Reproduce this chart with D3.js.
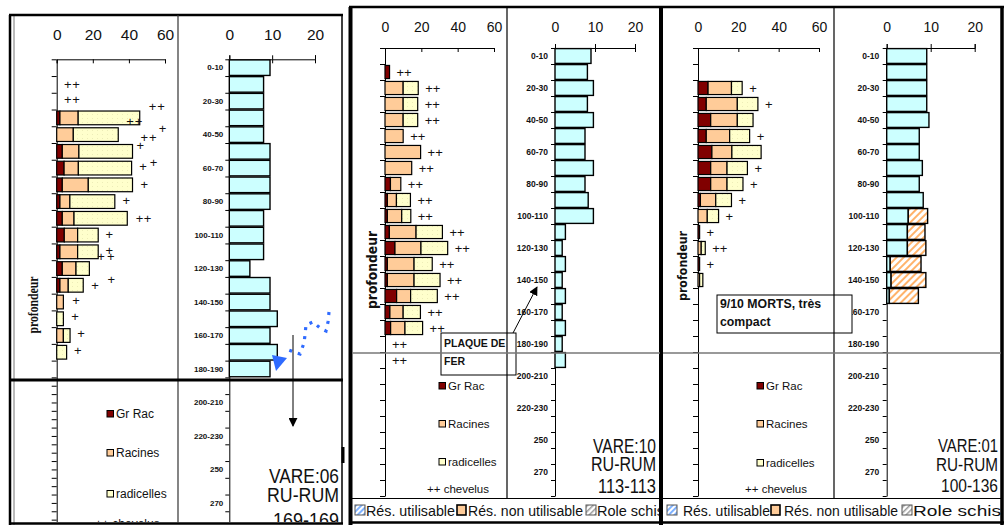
<!DOCTYPE html>
<html>
<head>
<meta charset="utf-8">
<script src="https://cdn.jsdelivr.net/npm/d3@7"></script>
<style>
  body { margin: 0; background: #fff; }
  svg { display: block; }
  text { font-family: "Liberation Sans", Arial, sans-serif; fill: #111; }
</style>
</head>
<body>
<div id="chart"></div>
<script>
// tick labels
const depthLabels = ["0-10", "20-30", "40-50", "60-70", "80-90", "100-110", "120-130", "140-150",
  "160-170", "180-190", "200-210", "220-230", "250", "270"];
const rootTicks = [0, 20, 40, 60];
const waterTicks = [0, 10, 20];
const legendRoots = ["Gr Rac", "Racines", "radicelles"];
const legendWater = ["Rés. utilisable", "Rés. non utilisable", "Role schiste"];

// VARE:06  (one value per 10 cm row)
const p1Title = ["VARE:06", "RU-RUM", "169-169"];
const p1GrRac = [0, 0, 0, 1.8, 0, 3.1, 4.1, 3.1, 1.8, 3.1, 4.2, 1.8, 3.1, 1.8, 0, 0, 0, 0, 0];
const p1Racines = [0, 0, 0, 10.1, 9.2, 9.2, 7.9, 14.4, 5.5, 6.5, 7.4, 9.8, 7.6, 4.6, 3.7, 0, 3.7, 0, 0];
const p1Radicelles = [0, 0, 0, 34.1, 24.9, 29.7, 29.5, 24.5, 24.9, 29.5, 11.4, 11.4, 7.4, 8.3, 0, 3.7, 3.7, 5.5, 0];
const p1ResUtil = [9.5, 8, 8, 8, 8, 9.5, 9.5, 9.5, 9.5, 8, 8, 8, 4.8, 9.5, 9.5, 11.2, 9.5, 11.2, 9.5];
const p1ResNon = [];
// chevelus marks of this profile are scattered: x value and depth (cm) of each "+"
const p1ChevX = [6.1, 10.7, 6.1, 10.7, 53.1, 57.8, 40.7, 45.3, 58.7, 48.5, 53.3, 46.3, 47.8, 53.7,
  48.5, 38.5, 45.9, 50.3, 29.2, 29.2, 24.6, 30.0, 30.2, 21.3, 10.7, 10.2, 13.5, 11.7];
const p1ChevDepth = [14.8, 14.8, 23.9, 23.9, 27.9, 27.9, 37.3, 37.3, 41.2, 46.6, 46.6, 51.6, 64.2, 61.8,
  74.7, 84.1, 95.0, 95.0, 104.5, 113.9, 117.5, 117.5, 131.4, 134.8, 143.8, 153.8, 163.7, 174.1];

// VARE:10
const p2Title = ["VARE:10", "RU-RUM", "113-113"];
const p2GrRac = [0, 2.5, 0, 0, 0, 0, 0, 0, 3, 1.3, 1.3, 2.4, 5.5, 1.3, 1.3, 6.4, 2.7, 3.1, 0, 0];
const p2Racines = [0, 0, 10, 10, 10, 10, 19.6, 14.7, 5.7, 5, 7.9, 14.7, 14.3, 14.7, 14.7, 7.7, 7.3, 7.9, 0, 0];
const p2Radicelles = [0, 0, 8.3, 8, 8, 0, 0, 0, 0, 7.7, 5, 14.5, 14.7, 10, 14.3, 14.7, 9.5, 9.7, 0, 0];
const p2Chevelus = [0, 2, 2, 2, 2, 2, 2, 2, 2, 2, 2, 2, 2, 2, 2, 2, 2, 2, 2, 2];
const p2ResUtil = [9, 8.1, 9.6, 8.1, 9.6, 7.5, 7.5, 9.6, 7.5, 8.3, 9.6, 2.6, 1.8, 2.6, 1.8, 2.6, 1.8, 2.6, 1.8, 2.6];
const p2ResNon = [];

// VARE:01
const p3Title = ["VARE:01", "RU-RUM", "100-136"];
const p3GrRac = [0, 0, 5, 4.1, 6.3, 4.1, 6.9, 6.3, 6.3, 1.2, 0, 0.8, 0, 0.8, 0];
const p3Racines = [0, 0, 11.6, 15.4, 13.2, 11.6, 9.9, 8.1, 8.1, 7.6, 4.6, 0, 1.6, 0, 0.8];
const p3Radicelles = [0, 0, 5.3, 10.2, 7.8, 9.9, 14.5, 10.1, 7.9, 7.8, 5.6, 0, 2, 0, 1.6];
const p3Chevelus = [0, 0, 1, 1, 0, 1, 0, 1, 1, 1, 1, 1, 2, 1, 0];
const p3ResUtil = [9.1, 9.1, 9.1, 9.1, 9.6, 7.4, 7.4, 8.1, 7.4, 8.3, 4.9, 4.7, 4.7, 0.8, 1.0, 0.6];
const p3ResNon = [0, 0, 0, 0, 0, 0, 0, 0, 0, 0, 4.4, 4.0, 4.2, 7.0, 7.9, 6.6];

const svg = d3.select("#chart").append("svg").attr("width", 1004).attr("height", 525);
const defs = svg.append("defs");

function hatch(id, color, bg, size, w) {
  const p = defs.append("pattern").attr("id", id).attr("patternUnits", "userSpaceOnUse")
    .attr("width", size).attr("height", size).attr("patternTransform", "rotate(45)");
  p.append("rect").attr("width", size).attr("height", size).attr("fill", bg);
  p.append("rect").attr("width", w).attr("height", size).attr("fill", color);
}
hatch("hatchOrange", "#FFB36B", "#fff", 5, 2);
hatch("hatchBlue", "#7FB2FF", "#fff", 4, 2);
hatch("hatchGrey", "#999", "#fff", 4, 1.5);

const dots = defs.append("pattern").attr("id", "radDots").attr("patternUnits", "userSpaceOnUse")
  .attr("width", 5).attr("height", 4);
dots.append("rect").attr("width", 5).attr("height", 4).attr("fill", "#FFFFCC");
dots.append("rect").attr("x", 2).attr("y", 2).attr("width", 1).attr("height", 1).attr("fill", "#EDEDB8");

defs.append("marker").attr("id", "arrBlack").attr("viewBox", "0 0 10 10").attr("refX", 9).attr("refY", 5)
  .attr("markerWidth", 9).attr("markerHeight", 9).attr("markerUnits", "userSpaceOnUse")
  .attr("orient", "auto")
  .append("path").attr("d", "M0,0L10,5L0,10z").attr("fill", "#000");

const rootFill = { gr: "#800000", rac: "#FFCC99", rad: "url(#radDots)" };
const waterFill = { use: "#CCFFFF", non: "url(#hatchOrange)" };
const legendFill = ["#800000", "#FFCC99", "#FFFFCC"];
const stackRoots = d3.stack().keys(["gr", "rac", "rad"]);
const stackWater = d3.stack().keys(["use", "non"]);

const panels = [
  {
    id: 1, clip: [11, 16, 331, 506], top: 59.3, rowH: 16.74, rx: [56.7, 165], wx: [229.3, 315],
    axisFont: 15.5, labelPad: 19.3, depthFont: 8, depthGap: 6,
    rootDepthTicks: d3.range(0, 190, 10).concat(d3.range(190, 281, 5)),
    data: { gr: p1GrRac, rac: p1Racines, rad: p1Radicelles, use: p1ResUtil, non: p1ResNon,
      chevX: p1ChevX, chevDepth: p1ChevDepth },
    prof: { x: 33, y: 305, len: 57, size: 15, family: "Liberation Serif" },
    leg: { x: 107, ys: [418, 457, 498], chevX: 95, chevY: 528, size: 12 },
    title: { text: p1Title, x: 339, ys: [483, 502, 527], lens: [70, 72, 66], size: 21 }
  },
  {
    id: 2, clip: [353, 8, 307, 513], top: 48, rowH: 16, rx: [385, 494], wx: [555, 635],
    axisFont: 14, labelPad: 16, depthFont: 8.5, depthGap: 7,
    rootDepthTicks: d3.range(0, 281, 10),
    data: { gr: p2GrRac, rac: p2Racines, rad: p2Radicelles, use: p2ResUtil, non: p2ResNon, chev: p2Chevelus },
    prof: { x: 372, y: 270, len: 78, size: 13.5, family: "DejaVu Sans" },
    leg: { x: 439, ys: [390, 428, 466], chevX: 427, chevY: 493, size: 11.5 },
    title: { text: p2Title, x: 656, ys: [453, 471, 493], lens: [63, 65, 58], size: 19.5 },
    bottom: { xs: [355, 366, 457, 468, 586, 597], lens: [89, 115, 79], y: 516 }
  },
  {
    id: 3, clip: [662, 8, 339, 513], top: 48, rowH: 16, rx: [698, 819], wx: [886.7, 974.7],
    axisFont: 14, labelPad: 16, depthFont: 8.5, depthGap: 7.5,
    rootDepthTicks: d3.range(0, 281, 10),
    data: { gr: p3GrRac, rac: p3Racines, rad: p3Radicelles, use: p3ResUtil, non: p3ResNon, chev: p3Chevelus },
    prof: { x: 682, y: 266, len: 70, size: 13, family: "DejaVu Sans" },
    leg: { x: 757, ys: [390, 428, 467], chevX: 745, chevY: 493, size: 11.5 },
    title: { text: p3Title, x: 998, ys: [452, 471, 492], lens: [60, 62, 57], size: 19 },
    bottom: { xs: [667, 683, 771, 784, 902, 913], lens: [87, 114, 104], y: 516 }
  }
];

panels.forEach(cfg => {
  defs.append("clipPath").attr("id", "clip" + cfg.id).append("rect")
    .attr("x", cfg.clip[0]).attr("y", cfg.clip[1]).attr("width", cfg.clip[2]).attr("height", cfg.clip[3]);
  drawPanel(cfg);
});

function styleAxis(sel, size) {
  sel.attr("font-family", null).attr("font-size", null);
  sel.selectAll("text").attr("font-size", size)
    .style("font-family", '"Liberation Sans Narrow", "Arial Narrow", "Liberation Sans", sans-serif')
    .attr("fill", "#222");
  sel.selectAll("line, path").attr("stroke", "#000");
}

function drawPanel(cfg) {
  const g = svg.append("g").attr("clip-path", `url(#clip${cfg.id})`);
  const d = cfg.data;
  const depth = d3.scaleLinear().domain([0, 280]).range([cfg.top, cfg.top + 28 * cfg.rowH]);
  const xr = d3.scaleLinear().domain([0, 60]).range(cfg.rx);
  const xw = d3.scaleLinear().domain([0, 20]).range(cfg.wx);

  // --- root chart ---
  g.append("g").attr("transform", `translate(${cfg.rx[0]},0)`)
    .call(d3.axisLeft(depth).tickValues(cfg.rootDepthTicks).tickFormat("").tickSize(5).tickSizeOuter(0))
    .call(s => styleAxis(s, cfg.axisFont));

  g.append("g").attr("transform", `translate(0,${cfg.top})`)
    .call(d3.axisTop(xr).tickValues(rootTicks).tickSizeInner(-4).tickSizeOuter(-4).tickPadding(cfg.labelPad))
    .call(s => styleAxis(s, cfg.axisFont));

  const rows = d.gr.map((v, i) => ({ row: i, gr: v, rac: d.rac[i], rad: d.rad[i] }));
  const barH = cfg.rowH * 0.82;
  g.append("g").selectAll("g").data(stackRoots(rows)).join("g")
    .attr("fill", s => rootFill[s.key])
    .selectAll("rect").data(s => s.filter(p => p[1] > p[0])).join("rect")
    .attr("x", p => xr(p[0]))
    .attr("width", p => xr(p[1]) - xr(p[0]))
    .attr("y", p => depth(p.data.row * 10) + (cfg.rowH - barH) / 2)
    .attr("height", barH)
    .attr("stroke", "#000").attr("stroke-width", 1.2);

  // chevelus
  const chev = g.append("g").attr("font-size", 13).attr("fill", "#111");
  if (d.chevX) {
    chev.selectAll("text").data(d.chevX).join("text")
      .attr("x", v => xr(v))
      .attr("y", (v, i) => depth(d.chevDepth[i]))
      .attr("dy", "0.35em").attr("text-anchor", "middle").text("+");
  } else {
    chev.selectAll("text").data(rows.filter(r => d.chev[r.row] > 0)).join("text")
      .attr("x", r => xr(r.gr + r.rac + r.rad) + 7)
      .attr("y", r => depth(r.row * 10 + 5))
      .attr("dy", "0.35em").text(r => "+".repeat(d.chev[r.row]));
  }

  // --- water reserve chart ---
  g.append("g").attr("transform", `translate(${cfg.wx[0]},0)`)
    .call(d3.axisLeft(depth).tickValues(d3.range(0, 281, 10)).tickFormat("").tickSize(4).tickSizeOuter(0))
    .call(s => styleAxis(s, cfg.axisFont));

  g.append("g").attr("transform", `translate(0,${cfg.top})`)
    .call(d3.axisTop(xw).tickValues(waterTicks).tickSizeInner(4).tickSizeOuter(4).tickPadding(cfg.labelPad - 4))
    .call(s => styleAxis(s, cfg.axisFont))
    .call(s => s.selectAll(".tick").filter(v => v > 0).append("line").attr("y2", 4).attr("stroke", "#000"));

  g.append("g").selectAll("text").data(depthLabels).join("text")
    .attr("x", cfg.wx[0] - cfg.depthGap)
    .attr("y", (t, i) => depth(i * 20 + 5))
    .attr("dy", "0.35em").attr("text-anchor", "end").attr("font-weight", "bold")
    .attr("font-size", cfg.depthFont).attr("fill", "#1a1a1a").text(t => t);

  const wrows = d.use.map((v, i) => ({ row: i, use: v, non: d.non[i] || 0 }));
  g.append("g").selectAll("g").data(stackWater(wrows)).join("g")
    .attr("fill", s => waterFill[s.key])
    .selectAll("rect").data(s => s.filter(p => p[1] > p[0])).join("rect")
    .attr("x", p => xw(p[0]))
    .attr("width", p => xw(p[1]) - xw(p[0]))
    .attr("y", p => depth(p.data.row * 10) + 0.6)
    .attr("height", cfg.rowH - 1.2)
    .attr("stroke", "#000").attr("stroke-width", 1.4);

  // axis title
  g.append("text")
    .attr("transform", `translate(${cfg.prof.x},${cfg.prof.y}) rotate(-90)`)
    .attr("text-anchor", "middle").attr("dy", "0.35em")
    .attr("font-weight", "bold").attr("font-size", cfg.prof.size)
    .style("font-family", cfg.prof.family)
    .attr("textLength", cfg.prof.len).attr("lengthAdjust", "spacingAndGlyphs")
    .text("profondeur");

  // legend of root classes
  const lg = g.append("g").attr("font-size", cfg.leg.size);
  legendRoots.forEach((name, k) => {
    lg.append("rect").attr("x", cfg.leg.x).attr("y", cfg.leg.ys[k] - 7.5)
      .attr("width", 6.5).attr("height", 6.5)
      .attr("fill", legendFill[k]).attr("stroke", "#000").attr("stroke-width", 1);
    lg.append("text").attr("x", cfg.leg.x + 9).attr("y", cfg.leg.ys[k]).text(name);
  });
  lg.append("text").attr("x", cfg.leg.chevX).attr("y", cfg.leg.chevY).text("++ chevelus");

  // profile name
  g.append("g").selectAll("text").data(cfg.title.text).join("text")
    .attr("x", cfg.title.x).attr("y", (t, i) => cfg.title.ys[i])
    .attr("text-anchor", "end").attr("font-size", cfg.title.size).attr("fill", "#1a1a1a")
    .attr("textLength", (t, i) => cfg.title.lens[i]).attr("lengthAdjust", "spacingAndGlyphs")
    .text(t => t);

  // bottom legend of water reserve
  if (cfg.bottom) {
    const b = cfg.bottom, bx = b.xs;
    const bl = g.append("g").attr("font-size", 14);
    bl.append("rect").attr("x", bx[0]).attr("y", b.y - 11).attr("width", 10).attr("height", 10)
      .attr("fill", "url(#hatchBlue)").attr("stroke", "#555");
    bl.append("rect").attr("x", bx[2]).attr("y", b.y - 11).attr("width", 9).attr("height", 10)
      .attr("fill", "#FFCC99").attr("stroke", "#000").attr("stroke-width", 1.6);
    bl.append("rect").attr("x", bx[4]).attr("y", b.y - 11).attr("width", 10).attr("height", 10)
      .attr("fill", "url(#hatchGrey)").attr("stroke", "#555");
    legendWater.forEach((t, k) => bl.append("text").attr("x", bx[2 * k + 1]).attr("y", b.y)
      .attr("textLength", b.lens[k]).attr("lengthAdjust", "spacingAndGlyphs").text(t));
  }
}

// --- annotations ---
const ann = svg.append("g");
// VARE:06
ann.append("path")
  .attr("d", d3.line()([[329, 312], [328, 322], [326, 331], [320, 328], [313, 322], [306, 325],
    [305, 335], [304, 343], [300, 354], [294, 352], [286, 349]]))
  .attr("fill", "none").attr("stroke", "#2F6BFF").attr("stroke-width", 3.2)
  .attr("stroke-dasharray", "3 6");
ann.append("path").attr("d", "M272,355L287,358L276,371Z").attr("fill", "#2F6BFF");
ann.append("line").attr("x1", 293).attr("y1", 335).attr("x2", 293).attr("y2", 426)
  .attr("stroke", "#000").attr("stroke-width", 1).attr("marker-end", "url(#arrBlack)");

// VARE:10
ann.append("line").attr("x1", 513).attr("y1", 333).attr("x2", 537).attr("y2", 287)
  .attr("stroke", "#000").attr("stroke-width", 1).attr("marker-end", "url(#arrBlack)");
ann.append("rect").attr("x", 441).attr("y", 333).attr("width", 75).attr("height", 42)
  .attr("fill", "#fff").attr("stroke", "#000");
ann.append("text").attr("x", 444).attr("y", 347).attr("font-weight", "bold").attr("font-size", 10.5)
  .text("PLAQUE DE");
ann.append("text").attr("x", 444).attr("y", 365).attr("font-weight", "bold").attr("font-size", 10.5)
  .text("FER");

// VARE:01
ann.append("rect").attr("x", 717).attr("y", 295).attr("width", 135).attr("height", 38)
  .attr("fill", "#fff").attr("stroke", "#000");
ann.append("text").attr("x", 720).attr("y", 308).attr("font-weight", "bold").attr("font-size", 12.3)
  .text("9/10 MORTS, très");
ann.append("text").attr("x", 720).attr("y", 326).attr("font-weight", "bold").attr("font-size", 12.3)
  .text("compact");

// --- frames ---
const fr = svg.append("g").attr("fill", "none");
function ln(x1, y1, x2, y2, w, c) {
  fr.append("line").attr("x1", x1).attr("y1", y1).attr("x2", x2).attr("y2", y2)
    .attr("stroke", c || "#000").attr("stroke-width", w);
}
// VARE:06 sheet
ln(10, 15, 10, 525, 2.5);
ln(14, 15, 14, 525, 1, "#777");
ln(9, 15, 343, 15, 2.5);
ln(342, 15, 342, 524, 1.5);
ln(9, 523.5, 343, 523.5, 2.5);
ln(178, 15, 178, 523, 1.2, "#333");
ln(10, 380, 343, 380, 3.2);
ln(343, 447, 343, 463, 3);
// VARE:10 and VARE:01 sheets
ln(350.5, 7, 350.5, 525, 4);
ln(349, 7, 1004, 7, 2.5);
ln(661, 7, 661, 525, 4);
ln(1002, 7, 1002, 525, 3.5);
ln(349, 522.5, 1004, 522.5, 2.5);
ln(352, 498.5, 1002, 498.5, 1.2);
ln(507, 8, 507, 498, 1.2);
ln(834, 8, 834, 498, 1.2);
ln(352, 353, 660, 353, 1.5, "#777");
ln(663, 353, 1001, 353, 1.5, "#777");
</script>
</body>
</html>
